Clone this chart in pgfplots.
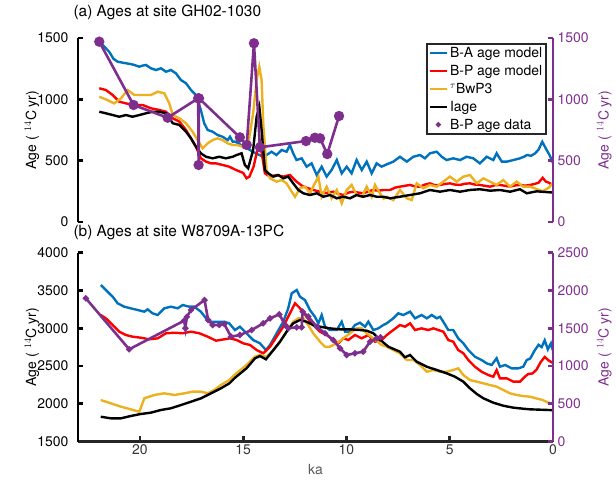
\documentclass[border=0pt]{standalone}
\usepackage{fontspec}
\setmainfont{TeX Gyre Heros}
\usepackage{pgfplots}
\pgfplotsset{compat=1.18}
\definecolor{mblue}{rgb}{0,0.447,0.741}
\definecolor{morange}{rgb}{0.929,0.694,0.125}
\definecolor{mpurple}{rgb}{0.494,0.184,0.556}
\definecolor{mred}{rgb}{1,0,0}
\pgfplotsset{
  ser/.style={line width=2.4bp, no marks},
  every tick label/.append style={font=\fontsize{14}{16}\selectfont},
  every axis title/.append style={font=\fontsize{15.5}{18}\selectfont, anchor=west},
}
\begin{document}
\begin{tikzpicture}
\path[use as bounding box] (0,0) rectangle (616bp,480bp);
% ---------- top panel ----------
\begin{axis}[scale only axis, width=475bp, height=184bp, at={(78bp,258bp)}, anchor=south west,
  x dir=reverse, xmin=0, xmax=23, ymin=0, ymax=1500, ytick={0,500,1000,1500},
  axis x line=none, axis y line=left, separate axis lines,
  axis line style={-, line width=2.6bp, black},
  tick align=inside, major tick length=5bp,
  every tick/.style={line width=2.6bp, black},
  yticklabel style={black, xshift=-6bp},
  ylabel={Age (\,\,$^{14}$C yr)},
  every axis y label/.style={at={(axis description cs:-0.097,0.5)}, rotate=90, anchor=center, font=\fontsize{14}{16}\selectfont},
  title={(a) Ages at site GH02-1030},
  title style={at={(axis description cs:-0.0168,1.109)}},
  /pgf/number format/assume math mode=true, /pgf/number format/1000 sep={}]
\addplot[ser, mblue] coordinates {(21.97,1470)(21.73,1430)(21.49,1388)(21.28,1330)(21.08,1307)(20.88,1300)(20.68,1294)(20.47,1288)(20.27,1280)(20.03,1266)(19.87,1275)(19.71,1280)(19.47,1253)(19.22,1239)(18.98,1253)(18.74,1225)(18.5,1239)(18.26,1212)(18.02,1158)(17.77,1131)(17.53,1076)(17.29,1035)(17.05,913)(16.89,805)(16.72,750)(16.48,736)(16.24,709)(16.0,695)(15.75,668)(15.64,695)(15.51,655)(15.4,655)(15.2,640)(15.0,610)(14.8,600)(14.6,580)(14.4,560)(14.2,545)(14.03,532)(13.87,546)(13.63,573)(13.39,546)(13.14,587)(12.9,573)(12.74,628)(12.58,560)(12.42,505)(12.17,519)(11.93,451)(11.69,478)(11.44,383)(11.2,451)(10.96,370)(10.72,424)(10.47,505)(10.23,397)(9.99,451)(9.75,397)(9.51,505)(9.26,424)(9.02,492)(8.78,397)(8.54,478)(8.3,451)(8.05,470)(7.73,492)(7.41,532)(7.08,492)(6.76,532)(6.44,546)(6.2,519)(5.96,560)(5.63,573)(5.39,532)(5.15,505)(4.83,519)(4.5,505)(4.18,532)(3.86,519)(3.54,478)(3.21,532)(2.89,505)(2.73,560)(2.48,492)(2.24,492)(1.92,505)(1.6,519)(1.38,534)(1.27,546)(1.06,540)(0.86,560)(0.7,590)(0.52,654)(0.35,600)(0.17,547)(0,480)};
\addplot[ser, mred] coordinates {(21.97,1090)(21.65,1076)(21.32,1035)(21.0,981)(20.68,967)(20.27,954)(19.87,954)(19.47,927)(19.06,913)(18.74,899)(18.41,845)(18.09,818)(17.77,750)(17.53,682)(17.29,614)(17.05,519)(16.8,492)(16.56,478)(16.32,478)(16.0,465)(15.68,451)(15.35,424)(15.0,400)(14.84,356)(14.7,370)(14.5,450)(14.35,560)(14.22,650)(14.1,560)(13.95,397)(13.7,370)(13.38,383)(13.06,370)(12.74,383)(12.42,329)(12.09,288)(11.85,275)(11.61,261)(11.36,250)(11.12,234)(10.88,240)(10.64,247)(10.4,230)(10.15,220)(9.9,240)(9.67,247)(9.43,240)(9.19,234)(8.94,250)(8.7,261)(8.46,255)(8.22,261)(7.89,261)(7.65,280)(7.41,288)(7.17,295)(6.92,302)(6.68,290)(6.44,288)(6.2,305)(5.96,315)(5.72,300)(5.47,302)(5.23,310)(4.99,315)(4.75,305)(4.5,302)(4.26,312)(4.02,315)(3.78,305)(3.54,302)(3.3,295)(3.05,288)(2.81,300)(2.57,302)(2.33,295)(2.08,288)(1.84,298)(1.6,302)(1.35,296)(1.11,302)(0.9,310)(0.7,320)(0.5,360)(0.35,330)(0.2,320)(0,300)};
\addplot[ser, morange] coordinates {(21.97,1021)(21.57,994)(21.25,967)(20.92,1008)(20.6,1076)(20.27,1035)(19.87,1035)(19.47,1035)(19.14,1062)(18.82,1049)(18.58,967)(18.41,872)(18.09,845)(17.77,805)(17.45,736)(17.21,668)(16.96,601)(16.72,641)(16.48,668)(16.24,682)(16.0,668)(15.75,641)(15.51,628)(15.32,628)(15.0,614)(14.76,628)(14.52,886)(14.35,1158)(14.22,1266)(14.11,1158)(14.03,805)(13.87,424)(13.7,356)(13.38,329)(13.14,342)(12.9,315)(12.65,247)(12.49,206)(12.25,275)(12.01,288)(11.77,234)(11.53,315)(11.36,370)(11.2,206)(10.96,288)(10.72,193)(10.47,261)(10.23,152)(9.99,261)(9.75,302)(9.51,220)(9.26,206)(9.02,288)(8.78,206)(8.62,302)(8.38,234)(8.2,190)(8.05,206)(7.73,179)(7.41,261)(7.08,193)(6.84,179)(6.6,315)(6.28,275)(5.96,302)(5.63,288)(5.31,329)(4.99,370)(4.66,329)(4.34,370)(4.02,383)(3.69,315)(3.37,356)(3.05,329)(2.73,302)(2.41,342)(2.08,288)(1.76,329)(1.44,288)(1.11,288)(0.8,270)(0.5,250)(0.2,280)(0,320)};
\addplot[ser, black] coordinates {(21.97,899)(21.65,886)(21.32,872)(21.0,858)(20.68,872)(20.36,858)(20.03,872)(19.71,886)(19.39,899)(19.06,899)(18.74,886)(18.41,805)(18.09,791)(17.77,736)(17.53,682)(17.29,614)(17.05,560)(16.8,532)(16.48,519)(16.16,532)(15.84,519)(15.51,532)(15.32,546)(15.08,560)(14.92,465)(14.76,438)(14.52,587)(14.35,858)(14.22,940)(14.11,750)(13.95,424)(13.79,397)(13.54,370)(13.3,383)(13.06,356)(12.82,370)(12.58,315)(12.33,261)(12.09,234)(11.77,220)(11.44,234)(11.12,206)(10.8,220)(10.47,193)(10.15,206)(9.83,193)(9.51,220)(9.19,206)(8.86,220)(8.54,206)(8.22,206)(7.89,193)(7.41,206)(6.92,220)(6.44,234)(5.96,261)(5.47,247)(4.99,261)(4.5,247)(4.02,261)(3.54,267)(3.05,255)(2.57,261)(2.08,247)(1.6,267)(1.27,234)(0.8,250)(0.4,245)(0,240)};
\end{axis}
\begin{axis}[scale only axis, width=475bp, height=184bp, at={(78bp,258bp)}, anchor=south west,
  x dir=reverse, xmin=0, xmax=23, ymin=0, ymax=1500, ytick={0,500,1000,1500},
  axis x line=none, axis y line=right, separate axis lines,
  axis line style={-, line width=2.6bp, mpurple},
  tick align=inside, major tick length=5bp,
  every tick/.style={line width=2.6bp, mpurple},
  yticklabel style={mpurple, xshift=1bp},
  ylabel={Age (\,\,$^{14}$C yr)},
  every axis y label/.style={at={(axis description cs:1.108,0.5)}, rotate=90, anchor=center, text=mpurple, font=\fontsize{14}{16}\selectfont},
  /pgf/number format/assume math mode=true, /pgf/number format/1000 sep={},
  legend style={at={(axis description cs:0.987,0.973)}, anchor=north east, draw=black!85, line width=2bp, fill=white, font=\fontsize{14}{16}\selectfont, inner sep=1.5bp, row sep=2.2bp},
  legend cell align=left]
\addlegendimage{line width=2.4bp, mblue}
\addlegendimage{line width=2.4bp, mred}
\addlegendimage{line width=2.4bp, morange}
\addlegendimage{line width=2.4bp, black}
\addlegendimage{only marks, mark=*, mark size=1.5bp, mpurple}
\legend{B-A age model, B-P age model, $^{\tau}$BwP3, Iage, B-P age data}
\addplot[forget plot, line width=2.6bp, mpurple, mark=*, mark size=3.8bp] coordinates {(21.97,1470)(20.31,954)(18.66,850)(17.18,1008)(17.16,465)(17.14,1008)(15.16,690)(14.83,628)(14.48,1457)(14.19,609)(11.96,660)(11.53,687)(11.28,682)(10.93,554)(10.36,864)};
\end{axis}
% ---------- bottom panel ----------
\begin{axis}[scale only axis, width=475bp, height=188.8bp, at={(78bp,38.5bp)}, anchor=south west,
  x dir=reverse, xmin=0, xmax=23, ymin=1500, ymax=4000, ytick={1500,2000,...,4000},
  xtick={0,5,10,15,20},
  axis x line=bottom, axis y line=left, separate axis lines,
  y axis line style={-, line width=2.6bp, black},
  x axis line style={-, line width=2.6bp, black!85},
  tick align=inside, major tick length=5bp,
  ytick style={line width=2.6bp, black},
  xtick style={line width=2.6bp, black!85},
  yticklabel style={black, xshift=-6bp},
  xticklabel style={black!80},
  ylabel={Age (\,\,$^{14}$C yr)},
  every axis y label/.style={at={(axis description cs:-0.097,0.5)}, rotate=90, anchor=center, font=\fontsize{14}{16}\selectfont},
  xlabel={ka},
  every axis x label/.style={at={(axis description cs:0.5,-0.151)}, anchor=center, text=black!65, font=\fontsize{14}{16}\selectfont},
  title={(b) Ages at site W8709A-13PC},
  title style={at={(axis description cs:-0.0168,1.078)}},
  /pgf/number format/assume math mode=true, /pgf/number format/1000 sep={}]
\addplot[ser, mblue] coordinates {(21.89,3572)(21.65,3506)(21.32,3417)(21.08,3330)(20.76,3285)(20.44,3263)(20.11,3241)(19.79,3219)(19.63,3250)(19.39,3197)(19.14,3175)(18.82,3264)(18.5,3285)(18.17,3264)(17.93,3307)(17.61,3285)(17.37,3285)(17.05,3219)(16.8,3131)(16.56,3086)(16.24,3086)(15.92,3086)(15.68,3065)(15.4,2976)(15.16,3020)(14.84,2933)(14.52,2844)(14.19,2800)(13.9,2711)(13.7,2778)(13.38,2933)(13.06,3086)(12.82,3264)(12.65,3462)(12.41,3506)(12.25,3417)(12.01,3373)(11.77,3241)(11.53,3152)(11.36,3065)(11.2,3175)(11.04,3020)(10.8,2976)(10.47,2976)(10.23,3086)(10.07,2953)(9.83,2953)(9.59,3042)(9.35,3073)(9.1,3020)(8.94,3086)(8.7,2976)(8.46,2998)(8.22,3042)(8.05,3065)(7.73,3131)(7.49,3197)(7.25,3175)(6.92,3219)(6.68,3131)(6.36,3175)(6.11,3131)(5.87,3175)(5.63,3131)(5.47,3152)(5.31,3086)(5.07,2976)(4.83,2976)(4.59,2866)(4.34,2800)(4.1,2711)(3.78,2623)(3.46,2579)(3.21,2535)(2.97,2513)(2.73,2602)(2.57,2490)(2.32,2513)(2.0,2469)(1.68,2469)(1.44,2490)(1.27,2579)(1.1,2600)(0.9,2700)(0.7,2780)(0.55,2750)(0.4,2840)(0.25,2720)(0.1,2800)(0,2700)};
\addplot[ser, mred] coordinates {(21.9,3175)(21.65,3131)(21.32,3042)(21.0,2954)(20.68,2910)(20.36,2888)(19.95,2874)(19.55,2853)(19.14,2866)(18.74,2933)(18.33,2940)(17.93,2933)(17.53,2954)(17.12,2933)(16.72,2888)(16.32,2835)(15.92,2853)(15.64,2866)(15.32,2844)(15.0,2800)(14.67,2778)(14.35,2711)(14.03,2668)(13.7,2755)(13.38,2888)(13.06,3020)(12.74,3197)(12.49,3330)(12.25,3264)(11.93,3152)(11.61,3042)(11.28,2954)(10.96,2910)(10.64,2844)(10.39,2800)(10.15,2866)(9.91,2844)(9.59,2910)(9.26,2866)(8.94,2910)(8.62,2821)(8.3,2844)(8.05,2910)(7.73,2976)(7.41,3042)(7.17,3020)(6.92,3065)(6.68,2976)(6.36,2998)(6.04,2976)(5.79,2998)(5.55,2976)(5.31,2954)(5.07,2844)(4.83,2821)(4.59,2711)(4.34,2668)(4.1,2579)(3.78,2490)(3.46,2424)(3.13,2380)(2.89,2358)(2.73,2447)(2.57,2336)(2.24,2336)(1.92,2292)(1.6,2292)(1.36,2358)(1.2,2394)(1.0,2400)(0.8,2450)(0.6,2550)(0.4,2620)(0.2,2570)(0,2540)};
\addplot[ser, morange] coordinates {(21.9,2049)(21.41,2006)(20.92,1961)(20.44,1926)(20.03,1894)(19.79,2072)(19.3,2116)(18.82,2138)(18.33,2116)(17.85,2138)(17.45,2160)(17.04,2160)(16.72,2138)(16.4,2182)(16.08,2248)(15.67,2314)(15.43,2380)(15.24,2424)(14.84,2513)(14.43,2623)(14.19,2645)(13.87,2623)(13.54,2711)(13.22,2821)(12.9,2954)(12.58,3086)(12.33,3131)(12.09,3131)(11.85,3042)(11.61,2933)(11.28,2821)(11.04,2755)(10.8,2755)(10.47,2800)(10.15,2866)(9.83,2933)(9.51,2998)(9.26,2998)(9.02,2933)(8.7,2866)(8.3,2778)(8.05,2755)(7.73,2711)(7.41,2668)(7.08,2579)(6.76,2579)(6.44,2513)(6.11,2424)(5.79,2447)(5.47,2424)(5.15,2424)(4.83,2447)(4.59,2469)(4.34,2380)(4.02,2314)(3.69,2292)(3.37,2270)(3.05,2248)(2.73,2226)(2.41,2182)(2.08,2138)(1.76,2116)(1.44,2102)(1.11,2093)(0.8,2070)(0.5,2050)(0.2,2010)(0,2000)};
\addplot[ser, black] coordinates {(21.9,1828)(21.41,1807)(20.92,1807)(20.44,1838)(19.96,1864)(19.47,1882)(18.99,1917)(18.5,1940)(18.01,1983)(17.53,2027)(17.04,2072)(16.56,2138)(16.08,2204)(15.67,2270)(15.43,2336)(15.24,2380)(14.84,2469)(14.43,2601)(14.19,2632)(13.9,2588)(13.54,2711)(13.22,2821)(12.9,2954)(12.58,3065)(12.25,3109)(11.93,3086)(11.61,3042)(11.28,3020)(10.8,2998)(10.31,2985)(9.83,2985)(9.35,2976)(9.02,2967)(8.7,2933)(8.38,2850)(7.97,2755)(7.41,2689)(7.17,2615)(6.92,2645)(6.6,2557)(6.11,2490)(5.63,2447)(5.15,2403)(4.75,2358)(4.34,2292)(4.02,2204)(3.69,2129)(3.37,2072)(2.89,2014)(2.41,1974)(1.92,1948)(1.44,1934)(1.11,1926)(0,1915)};
\end{axis}
\begin{axis}[scale only axis, width=475bp, height=188.8bp, at={(78bp,38.5bp)}, anchor=south west,
  x dir=reverse, xmin=0, xmax=23, ymin=0, ymax=2500, ytick={0,500,...,2500},
  axis x line=none, axis y line=right, separate axis lines,
  axis line style={-, line width=2.6bp, mpurple},
  tick align=inside, major tick length=5bp,
  every tick/.style={line width=2.6bp, mpurple},
  yticklabel style={mpurple, xshift=1bp},
  ylabel={Age (\,\,$^{14}$C yr)},
  every axis y label/.style={at={(axis description cs:1.108,0.5)}, rotate=90, anchor=center, text=mpurple, font=\fontsize{14}{16}\selectfont},
  /pgf/number format/assume math mode=true, /pgf/number format/1000 sep={}]
\addplot[line width=2.6bp, mpurple, mark=*, mark size=1.6bp] coordinates {(22.62,1896)(20.52,1221)(17.86,1600)(17.80,1500)(17.73,1650)(17.53,1741)(16.87,1873)(16.70,1609)(16.48,1543)(16.16,1543)(15.92,1556)(15.59,1388)(15.16,1410)(14.59,1476)(14.03,1565)(13.70,1631)(13.25,1684)(12.97,1543)(12.82,1499)(12.41,1512)(12.17,1512)(12.12,1719)(11.85,1653)(11.44,1520)(11.04,1433)(10.64,1344)(10.31,1234)(9.99,1145)(9.59,1168)(9.19,1189)(8.86,1321)(8.54,1366)(8.35,1380)};
\end{axis}
\end{tikzpicture}
\end{document}
